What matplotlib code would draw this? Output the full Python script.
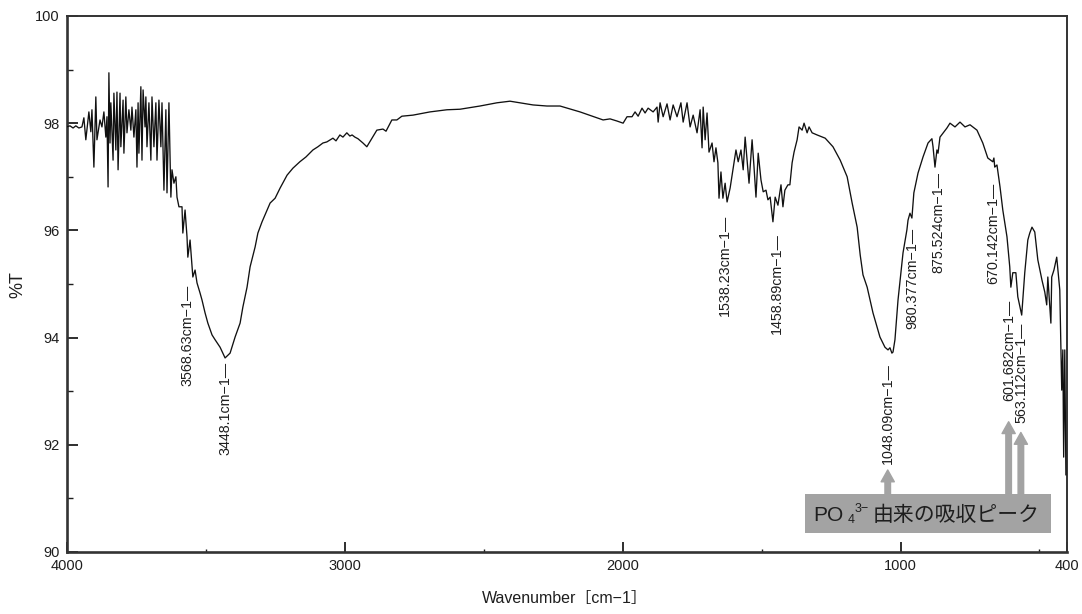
import matplotlib
matplotlib.use("Agg")
import matplotlib.pyplot as plt
from matplotlib.patches import Rectangle

plt.rcParams['font.family'] = ['Liberation Sans', 'Noto Sans CJK JP', 'DejaVu Sans']

# ---- spectrum (wavenumber [cm-1], %T) ----
wavenumber = [
    4000, 3988, 3977, 3967, 3956, 3945, 3938, 3931, 3920, 3913, 3909, 3902, 3895, 3891,
    3880, 3873, 3866, 3859, 3855, 3851, 3848, 3844, 3841, 3833, 3830, 3823, 3819, 3815,
    3808, 3805, 3797, 3794, 3787, 3783, 3776, 3769, 3765, 3758, 3751, 3747, 3743, 3740,
    3733, 3729, 3725, 3718, 3715, 3711, 3704, 3697, 3693, 3686, 3679, 3675, 3668, 3661,
    3657, 3650, 3643, 3639, 3632, 3625, 3621, 3614, 3607, 3603, 3596, 3585, 3582, 3574,
    3567, 3564, 3556, 3549, 3546, 3538, 3531, 3520, 3513, 3502, 3492, 3477, 3466, 3448,
    3430, 3412, 3394, 3376, 3366, 3351, 3340, 3322, 3312, 3297, 3279, 3268, 3250, 3232,
    3207, 3186, 3161, 3139, 3114, 3096, 3078, 3064, 3042, 3031, 3017, 3006, 2992, 2981,
    2973, 2963, 2952, 2934, 2920, 2905, 2884, 2862, 2851, 2830, 2812, 2794, 2754, 2693,
    2632, 2585, 2513, 2452, 2405, 2369, 2322, 2272, 2225, 2153, 2070, 2045, 2020, 1998,
    1984, 1966, 1955, 1944, 1930, 1919, 1908, 1890, 1876, 1872, 1865, 1854, 1840, 1829,
    1818, 1804, 1790, 1782, 1768, 1757, 1746, 1732, 1721, 1714, 1710, 1703, 1696, 1689,
    1678, 1671, 1664, 1657, 1653, 1646, 1639, 1631, 1624, 1613, 1592, 1584, 1574, 1566,
    1559, 1552, 1545, 1534, 1527, 1520, 1512, 1502, 1494, 1484, 1477, 1469, 1459, 1451,
    1441, 1430, 1423, 1416, 1405, 1398, 1390, 1383, 1372, 1365, 1354, 1347, 1336, 1329,
    1318, 1300, 1271, 1243, 1217, 1192, 1174, 1156, 1145, 1135, 1120, 1099, 1074, 1056,
    1045, 1038, 1031, 1027, 1020, 1009, 991, 977, 973, 966, 959, 952, 937, 919,
    901, 887, 883, 876, 869, 865, 858, 833, 822, 804, 786, 768, 750, 725,
    704, 686, 668, 664, 661, 653, 642, 632, 617, 607, 603, 596, 585, 578,
    564, 553, 542, 535, 527, 517, 506, 491, 481, 474, 470, 459, 456, 448,
    438, 427, 420, 416, 413, 409, 405,
]
transmittance = [
    97.93, 97.95, 97.91, 97.95, 97.91, 97.93, 98.10, 97.69, 98.21, 97.84, 98.25, 97.18, 98.49, 97.69,
    98.06, 97.93, 98.21, 97.74, 98.12, 96.81, 98.94, 97.63, 98.38, 97.31, 98.56, 97.50, 98.58, 97.13,
    98.56, 97.56, 98.43, 97.44, 98.49, 97.82, 98.25, 97.87, 98.30, 97.74, 98.25, 97.18, 98.38, 97.44,
    98.68, 97.31, 98.62, 97.93, 98.49, 97.56, 98.38, 97.31, 98.49, 97.56, 98.38, 97.31, 98.43, 97.56,
    98.38, 96.75, 98.25, 96.70, 98.38, 96.62, 97.13, 96.88, 97.00, 96.62, 96.44, 96.44, 95.95, 96.38,
    95.88, 95.50, 95.82, 95.32, 95.13, 95.26, 95.02, 94.83, 94.70, 94.46, 94.27, 94.05, 93.96, 93.82,
    93.62, 93.71, 94.01, 94.27, 94.57, 94.94, 95.32, 95.69, 95.95, 96.16, 96.38, 96.51, 96.60, 96.79,
    97.03, 97.16, 97.28, 97.37, 97.50, 97.56, 97.63, 97.65, 97.72, 97.67, 97.78, 97.74, 97.82, 97.76,
    97.78, 97.74, 97.71, 97.63, 97.56, 97.69, 97.87, 97.89, 97.85, 98.06, 98.06, 98.13, 98.15, 98.21,
    98.25, 98.26, 98.32, 98.38, 98.41, 98.38, 98.34, 98.32, 98.32, 98.21, 98.06, 98.08, 98.04, 98.00,
    98.12, 98.12, 98.21, 98.13, 98.28, 98.19, 98.28, 98.21, 98.30, 98.02, 98.38, 98.12, 98.36, 98.06,
    98.34, 98.12, 98.38, 98.02, 98.38, 97.93, 98.15, 97.82, 98.25, 97.54, 98.30, 97.69, 98.19, 97.46,
    97.63, 97.28, 97.54, 97.26, 96.60, 97.09, 96.60, 96.88, 96.53, 96.79, 97.50, 97.28, 97.50, 97.13,
    97.74, 97.31, 96.88, 97.69, 97.18, 96.62, 97.44, 96.94, 96.72, 96.75, 96.57, 96.62, 96.16, 96.62,
    96.47, 96.85, 96.44, 96.75, 96.85, 96.85, 97.26, 97.46, 97.69, 97.93, 97.87, 98.00, 97.82, 97.93,
    97.82, 97.78, 97.72, 97.56, 97.31, 97.00, 96.51, 96.06, 95.54, 95.17, 94.94, 94.46, 94.01, 93.82,
    93.77, 93.81, 93.71, 93.73, 93.96, 94.70, 95.58, 96.01, 96.19, 96.32, 96.23, 96.70, 97.07, 97.37,
    97.63, 97.71, 97.56, 97.18, 97.50, 97.44, 97.74, 97.91, 98.00, 97.93, 98.02, 97.93, 97.97, 97.87,
    97.63, 97.35, 97.28, 97.35, 97.18, 97.22, 96.81, 96.38, 95.88, 95.32, 94.94, 95.21, 95.21, 94.76,
    94.42, 95.21, 95.82, 95.95, 96.06, 95.97, 95.45, 95.07, 94.85, 94.61, 95.13, 94.27, 95.13, 95.26,
    95.50, 94.89, 93.02, 93.77, 91.77, 93.77, 91.44,
]

# ---- peak labels ----
peak_labels = ["3568.63cm\u22121\u2014", "3448.1cm\u22121\u2014", "1538.23cm\u22121\u2014",
               "1458.89cm\u22121\u2014", "1048.09cm\u22121\u2014", "980.377cm\u22121\u2014",
               "875.524cm\u22121\u2014", "670.142cm\u22121\u2014", "601.682cm\u22121\u2014",
               "563.112cm\u22121\u2014"]
label_x = [3567, 3430, 1631, 1444, 1045, 959, 865, 668, 607, 564]
label_y = [94.98, 93.54, 96.29, 95.95, 93.53, 96.04, 97.09, 96.88, 94.70, 94.27]

# PO4 arrows (x, tip %T)
arrow_x = [1046, 611, 567]
arrow_tip = [91.53, 92.43, 92.23]

x_major = [4000, 3000, 2000, 1000, 400]
x_minor = [3500, 2500, 1500, 500]
y_major = [90, 92, 94, 96, 98, 100]
y_minor = [91, 93, 95, 97, 99]

GRAY = '#a3a3a3'
INK = '#1e1e1e'

fig = plt.figure(figsize=(10.82, 6.14), dpi=100)
ax = fig.add_axes([0.0616, 0.101, 0.9248, 0.873])

ax.plot(wavenumber, transmittance, color='#111111', lw=0.95, zorder=3)
ax.set_xlim(4000, 400)
ax.set_ylim(90, 100)
ax.set_xticks(x_major)
ax.set_xticklabels([str(v) for v in x_major])
ax.set_xticks(x_minor, minor=True)
ax.set_yticks(y_major)
ax.set_yticks(y_minor, minor=True)

ax.tick_params(axis='both', which='both', direction='in', colors=INK, labelsize=10.5)
ax.tick_params(axis='y', which='major', length=8, width=1.3, pad=5)
ax.tick_params(axis='y', which='minor', length=4, width=1.0)
ax.tick_params(axis='x', which='major', length=7, width=1.3, pad=5)
ax.tick_params(axis='x', which='minor', length=2.5, width=1.0)
for side in ['left', 'bottom']:
    ax.spines[side].set_linewidth(1.9)
    ax.spines[side].set_color('#333333')
for side in ['top', 'right']:
    ax.spines[side].set_linewidth(1.4)
    ax.spines[side].set_color('#333333')

for txt, lx, ly in zip(peak_labels, label_x, label_y):
    ax.text(lx, ly, txt, rotation=90, ha='center', va='top', fontsize=10.3,
            color=INK, zorder=4)

# PO4 box and arrows
box_left, box_right = 1344, 459
box_bottom, box_top = 90.35, 91.08
ax.add_patch(Rectangle((box_right, box_bottom), box_left - box_right, box_top - box_bottom,
                       facecolor=GRAY, edgecolor='none', zorder=5))
for axx, tip in zip(arrow_x, arrow_tip):
    ax.annotate('', xy=(axx, tip), xytext=(axx, box_top),
                arrowprops=dict(arrowstyle='simple,head_length=0.85,head_width=0.95,tail_width=0.4',
                                color=GRAY, mutation_scale=10, shrinkA=0, shrinkB=0),
                zorder=5)

ty = 90.69
ax.text(1315, ty, 'PO', fontsize=15, color=INK, ha='left', va='center', zorder=6)
ax.text(1189, ty - 0.1, '4', fontsize=9, color=INK, ha='left', va='center', zorder=6)
ax.text(1164, ty + 0.12, '3\u2212', fontsize=9, color=INK, ha='left', va='center', zorder=6)
ax.text(1099, ty, '由来の吸収ピーク', fontsize=15, color=INK, ha='left', va='center', zorder=6,
        family=['Noto Sans CJK JP', 'DejaVu Sans'])

fig.text(565 / 1082, 1 - 598 / 614, 'Wavenumber［cm\u22121］', fontsize=11.5, color=INK,
         ha='center', va='center')
fig.text(18 / 1082, 1 - 285 / 614, '%T', fontsize=13, color=INK, rotation=90,
         ha='center', va='center')

fig.savefig('out.png', dpi=100)
